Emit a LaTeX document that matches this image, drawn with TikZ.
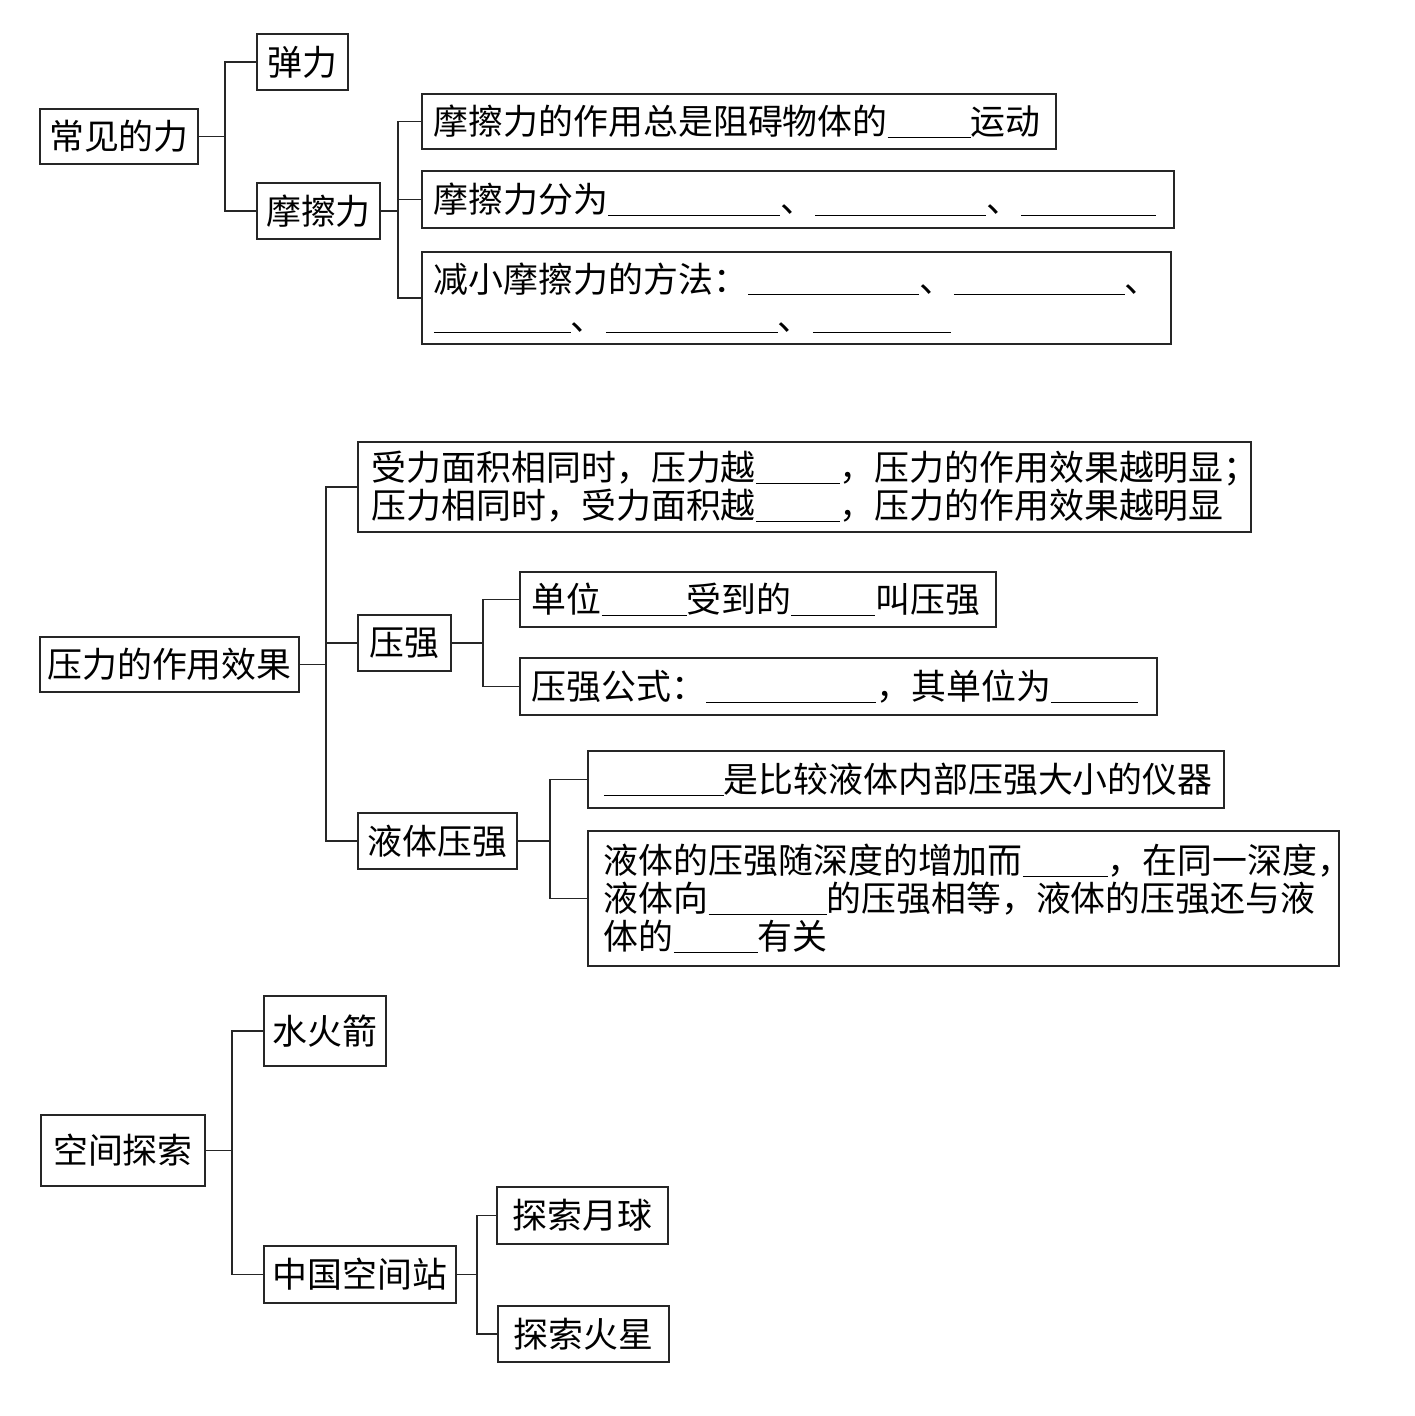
\documentclass[tikz,border=0pt]{standalone}
\usepackage{fontspec}
\setmainfont{Noto Sans CJK SC}
\newcommand\bl[1]{\rule[-0.1em]{#1pt}{1.3pt}}
\begin{document}
\begin{tikzpicture}[x=1pt,y=-1pt,
  box/.style={draw=black!85, line width=1.9pt, inner sep=0pt, anchor=north west,
    font=\fontsize{34.9}{38}\selectfont},
  lbox/.style={box, align=left, inner xsep=12pt},
  conn/.style={draw=black!85, line width=1.9pt}]
\useasboundingbox[fill=white] (0,0) rectangle (1414,1416);

% ---------- top section ----------
\node[box, minimum width=158, minimum height=55] (cjl) at (39,108) {常见的力};
\node[box, minimum width=91, minimum height=56] (tl) at (256,33) {弹力};
\node[box, minimum width=123, minimum height=56] (mcl) at (256,182) {摩擦力};
\node[lbox, text width=610, minimum height=55] (a1) at (421,93)
  {摩擦力的作用总是阻碍物体的\bl{83}运动};
\node[lbox, text width=728, minimum height=57] (a2) at (421,170)
  {摩擦力分为\bl{172}、\bl{171}、\bl{135}};
\node[lbox, text width=725, minimum height=92] (a3) at (421,251)
  {减小摩擦力的方法：\bl{171}、\bl{171}、\\ \bl{137}、\bl{172}、\bl{138}};

\coordinate (t1) at (225,0);
\draw[conn] (cjl.east) -- (cjl.east -| t1);
\draw[conn] (tl.west) -- (tl.west -| t1) -- (mcl.west -| t1) -- (mcl.west);
\coordinate (t2) at (398,0);
\draw[conn] (mcl.east) -- (mcl.east -| t2);
\draw[conn] (a1.west) -- (a1.west -| t2) -- (a3.west -| t2) -- (a3.west);
\draw[conn] (a2.west) -- (a2.west -| t2);

% ---------- middle section ----------
\node[box, minimum width=259, minimum height=55] (yl) at (39,636) {压力的作用效果};
\node[lbox, inner xsep=14pt, text width=865, minimum height=90] (d1) at (357,441)
  {受力面积相同时，压力越\bl{84}，压力的作用效果越明显；\\
   压力相同时，受力面积越\bl{84}，压力的作用效果越明显};
\node[box, minimum width=93, minimum height=56] (yq) at (357,614) {压强};
\node[box, minimum width=159, minimum height=56] (ytyq) at (357,812) {液体压强};
\node[lbox, text width=452, minimum height=55] (u1) at (519,571)
  {单位\bl{85}受到的\bl{84}叫压强};
\node[lbox, text width=613, minimum height=57] (u2) at (519,657)
  {压强公式：\bl{170}，其单位为\bl{87}};
\node[lbox, inner xsep=16pt, text width=604, minimum height=57] (e1) at (587,750)
  {\bl{120}是比较液体内部压强大小的仪器};
\node[lbox, inner xsep=16pt, text width=719, minimum height=135] (e2) at (587,830)
  {液体的压强随深度的增加而\bl{85}，在同一深度，\\
   液体向\bl{118}的压强相等，液体的压强还与液\\
   体的\bl{84}有关};

\coordinate (t3) at (326,0);
\draw[conn] (yl.east) -- (yl.east -| t3);
\draw[conn] (d1.west) -- (d1.west -| t3) -- (ytyq.west -| t3) -- (ytyq.west);
\draw[conn] (yq.west) -- (yq.west -| t3);
\coordinate (t4) at (483,0);
\draw[conn] (yq.east) -- (yq.east -| t4);
\draw[conn] (u1.west) -- (u1.west -| t4) -- (u2.west -| t4) -- (u2.west);
\coordinate (t5) at (550,0);
\draw[conn] (ytyq.east) -- (ytyq.east -| t5);
\draw[conn] (e1.west) -- (e1.west -| t5) -- (e2.west -| t5) -- (e2.west);

% ---------- bottom section ----------
\node[box, minimum width=164, minimum height=71] (kj) at (40,1114) {空间探索};
\node[box, minimum width=122, minimum height=70] (shj) at (263,995) {水火箭};
\node[box, minimum width=192, minimum height=57] (zg) at (263,1245) {中国空间站};
\node[box, minimum width=171, minimum height=57] (yq1) at (496,1186) {探索月球};
\node[box, minimum width=171, minimum height=56] (hx) at (497,1305) {探索火星};

\coordinate (t6) at (232,0);
\draw[conn] (kj.east) -- (kj.east -| t6);
\draw[conn] (shj.west) -- (shj.west -| t6) -- (zg.west -| t6) -- (zg.west);
\coordinate (t7) at (477,0);
\draw[conn] (zg.east) -- (zg.east -| t7);
\draw[conn] (yq1.west) -- (yq1.west -| t7) -- (hx.west -| t7) -- (hx.west);
\end{tikzpicture}
\end{document}
